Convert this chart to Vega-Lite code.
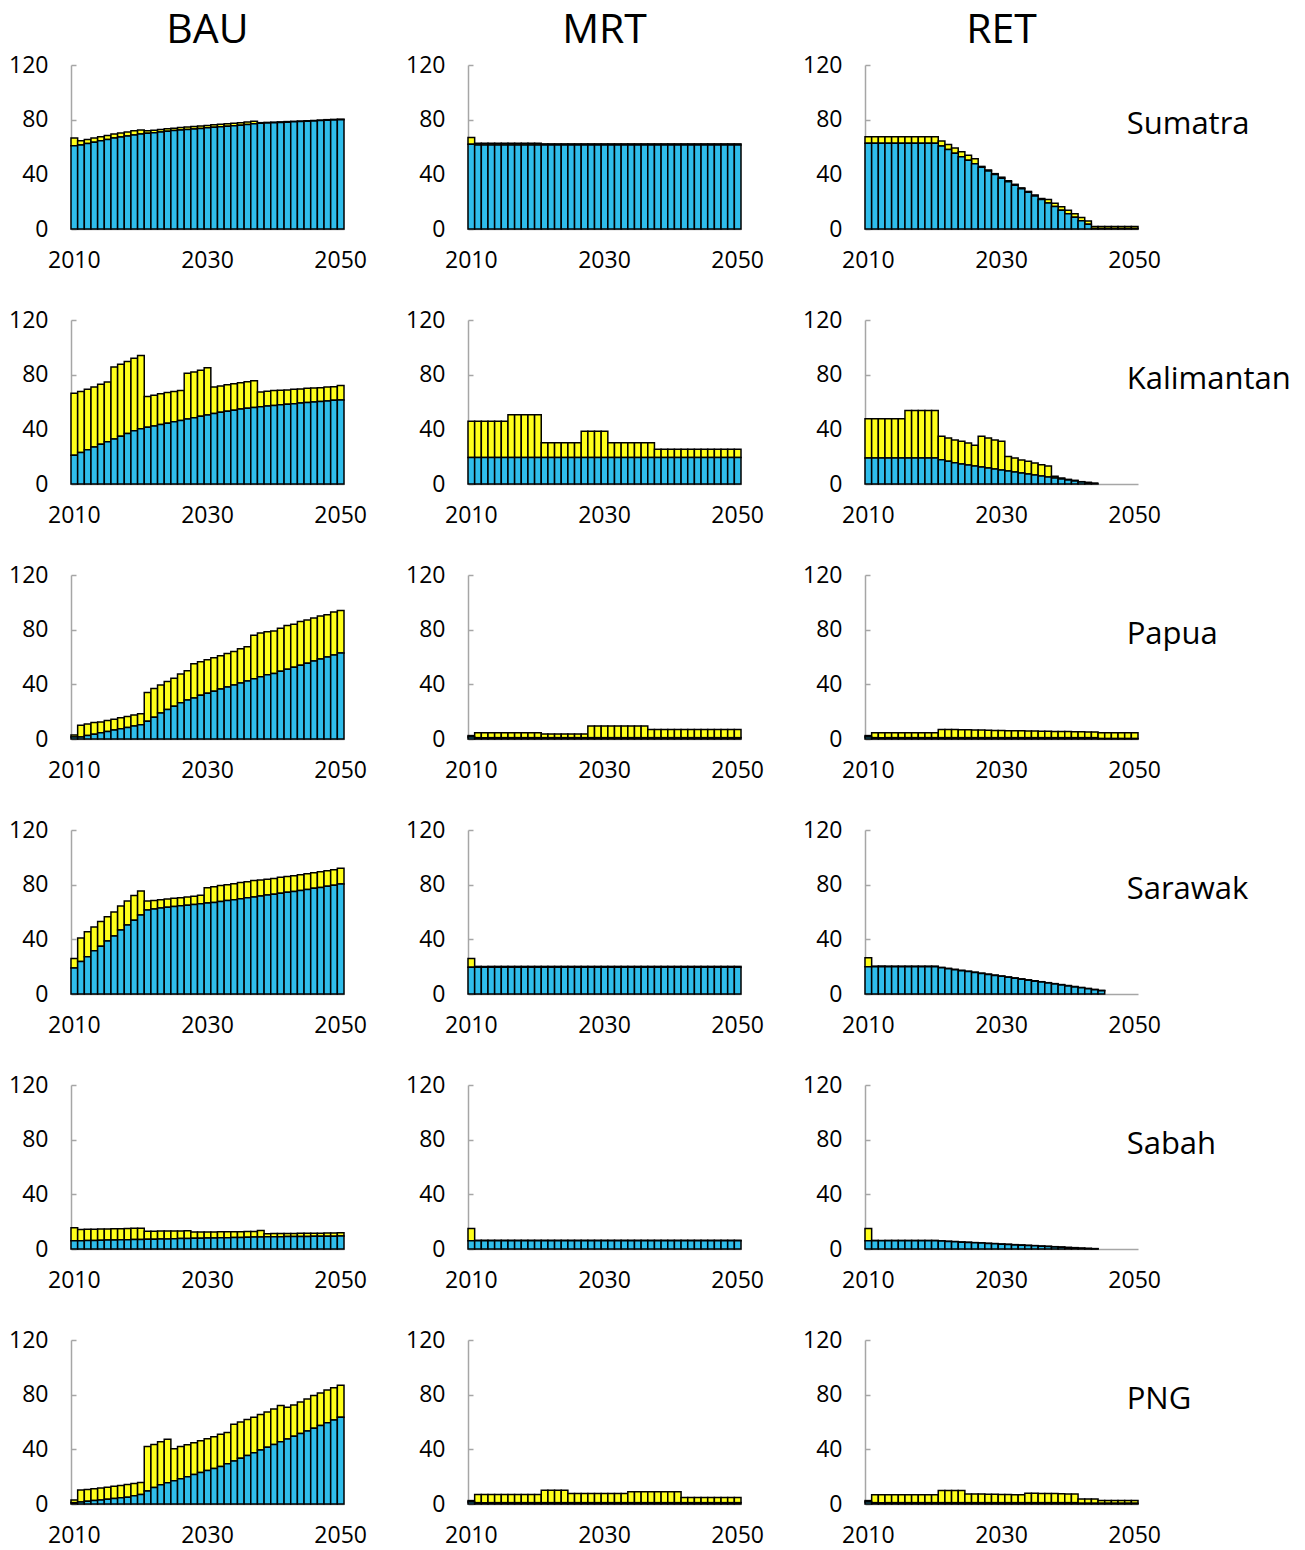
{
"$schema":"https://vega.github.io/schema/vega-lite/v6.json",
"background":"white",
"padding":{"left":8,"top":10,"right":5,"bottom":5},
"bounds":"flush",
"data":{"values":[
{"r":"Sumatra","s":"BAU","y":2010,"b":61,"t":66.5},{"r":"Sumatra","s":"BAU","y":2011,"b":61.5,"t":64.5},{"r":"Sumatra","s":"BAU","y":2012,"b":62.5,"t":65.5},{"r":"Sumatra","s":"BAU","y":2013,"b":63.5,"t":66.5},{"r":"Sumatra","s":"BAU","y":2014,"b":64.5,"t":67.5},{"r":"Sumatra","s":"BAU","y":2015,"b":65.5,"t":68.5},{"r":"Sumatra","s":"BAU","y":2016,"b":66.5,"t":69.5},{"r":"Sumatra","s":"BAU","y":2017,"b":67.3,"t":70.3},{"r":"Sumatra","s":"BAU","y":2018,"b":68,"t":71},{"r":"Sumatra","s":"BAU","y":2019,"b":68.8,"t":71.8},{"r":"Sumatra","s":"BAU","y":2020,"b":69.5,"t":72.5},{"r":"Sumatra","s":"BAU","y":2021,"b":70,"t":71.8},{"r":"Sumatra","s":"BAU","y":2022,"b":70.5,"t":72.3},{"r":"Sumatra","s":"BAU","y":2023,"b":71,"t":72.8},{"r":"Sumatra","s":"BAU","y":2024,"b":71.5,"t":73.3},{"r":"Sumatra","s":"BAU","y":2025,"b":72,"t":73.8},{"r":"Sumatra","s":"BAU","y":2026,"b":72.4,"t":74.2},{"r":"Sumatra","s":"BAU","y":2027,"b":72.8,"t":74.6},{"r":"Sumatra","s":"BAU","y":2028,"b":73.2,"t":75},{"r":"Sumatra","s":"BAU","y":2029,"b":73.6,"t":75.4},{"r":"Sumatra","s":"BAU","y":2030,"b":74,"t":75.8},{"r":"Sumatra","s":"BAU","y":2031,"b":74.4,"t":76.2},{"r":"Sumatra","s":"BAU","y":2032,"b":74.8,"t":76.6},{"r":"Sumatra","s":"BAU","y":2033,"b":75.2,"t":77},{"r":"Sumatra","s":"BAU","y":2034,"b":75.6,"t":77.4},{"r":"Sumatra","s":"BAU","y":2035,"b":76,"t":77.8},{"r":"Sumatra","s":"BAU","y":2036,"b":76.5,"t":78.3},{"r":"Sumatra","s":"BAU","y":2037,"b":77,"t":78.8},{"r":"Sumatra","s":"BAU","y":2038,"b":77.4,"t":77.8},{"r":"Sumatra","s":"BAU","y":2039,"b":77.6,"t":78},{"r":"Sumatra","s":"BAU","y":2040,"b":77.8,"t":78.2},{"r":"Sumatra","s":"BAU","y":2041,"b":78,"t":78.4},{"r":"Sumatra","s":"BAU","y":2042,"b":78.2,"t":78.6},{"r":"Sumatra","s":"BAU","y":2043,"b":78.4,"t":78.8},{"r":"Sumatra","s":"BAU","y":2044,"b":78.6,"t":79},{"r":"Sumatra","s":"BAU","y":2045,"b":78.8,"t":79.2},{"r":"Sumatra","s":"BAU","y":2046,"b":79,"t":79.4},{"r":"Sumatra","s":"BAU","y":2047,"b":79.3,"t":79.7},{"r":"Sumatra","s":"BAU","y":2048,"b":79.6,"t":80},{"r":"Sumatra","s":"BAU","y":2049,"b":79.8,"t":80.2},{"r":"Sumatra","s":"BAU","y":2050,"b":80,"t":80.4},
{"r":"Kalimantan","s":"BAU","y":2010,"b":21,"t":66.4},{"r":"Kalimantan","s":"BAU","y":2011,"b":23,"t":67.6},{"r":"Kalimantan","s":"BAU","y":2012,"b":25,"t":69.3},{"r":"Kalimantan","s":"BAU","y":2013,"b":27,"t":71},{"r":"Kalimantan","s":"BAU","y":2014,"b":29,"t":73},{"r":"Kalimantan","s":"BAU","y":2015,"b":31,"t":74.6},{"r":"Kalimantan","s":"BAU","y":2016,"b":33,"t":85.7},{"r":"Kalimantan","s":"BAU","y":2017,"b":35,"t":87.7},{"r":"Kalimantan","s":"BAU","y":2018,"b":37,"t":89.6},{"r":"Kalimantan","s":"BAU","y":2019,"b":39,"t":92},{"r":"Kalimantan","s":"BAU","y":2020,"b":40.5,"t":94},{"r":"Kalimantan","s":"BAU","y":2021,"b":41.5,"t":64},{"r":"Kalimantan","s":"BAU","y":2022,"b":42.5,"t":65},{"r":"Kalimantan","s":"BAU","y":2023,"b":43.5,"t":66},{"r":"Kalimantan","s":"BAU","y":2024,"b":44.5,"t":67},{"r":"Kalimantan","s":"BAU","y":2025,"b":45.5,"t":67.6},{"r":"Kalimantan","s":"BAU","y":2026,"b":46.5,"t":68.4},{"r":"Kalimantan","s":"BAU","y":2027,"b":47.5,"t":81},{"r":"Kalimantan","s":"BAU","y":2028,"b":48.5,"t":82},{"r":"Kalimantan","s":"BAU","y":2029,"b":49.5,"t":83.3},{"r":"Kalimantan","s":"BAU","y":2030,"b":50.5,"t":85},{"r":"Kalimantan","s":"BAU","y":2031,"b":51.5,"t":71},{"r":"Kalimantan","s":"BAU","y":2032,"b":52.5,"t":71.7},{"r":"Kalimantan","s":"BAU","y":2033,"b":53.3,"t":72.7},{"r":"Kalimantan","s":"BAU","y":2034,"b":54,"t":73.4},{"r":"Kalimantan","s":"BAU","y":2035,"b":54.8,"t":74},{"r":"Kalimantan","s":"BAU","y":2036,"b":55.5,"t":74.9},{"r":"Kalimantan","s":"BAU","y":2037,"b":56,"t":75.6},{"r":"Kalimantan","s":"BAU","y":2038,"b":56.5,"t":67.4},{"r":"Kalimantan","s":"BAU","y":2039,"b":57,"t":67.9},{"r":"Kalimantan","s":"BAU","y":2040,"b":57.5,"t":68.4},{"r":"Kalimantan","s":"BAU","y":2041,"b":58,"t":68.6},{"r":"Kalimantan","s":"BAU","y":2042,"b":58.4,"t":68.8},{"r":"Kalimantan","s":"BAU","y":2043,"b":58.8,"t":69.3},{"r":"Kalimantan","s":"BAU","y":2044,"b":59.2,"t":69.6},{"r":"Kalimantan","s":"BAU","y":2045,"b":59.6,"t":70},{"r":"Kalimantan","s":"BAU","y":2046,"b":60,"t":70.3},{"r":"Kalimantan","s":"BAU","y":2047,"b":60.4,"t":70.5},{"r":"Kalimantan","s":"BAU","y":2048,"b":60.8,"t":71},{"r":"Kalimantan","s":"BAU","y":2049,"b":61.2,"t":71.2},{"r":"Kalimantan","s":"BAU","y":2050,"b":61.5,"t":72},
{"r":"Papua","s":"BAU","y":2010,"b":1.5,"t":3},{"r":"Papua","s":"BAU","y":2011,"b":1.5,"t":10},{"r":"Papua","s":"BAU","y":2012,"b":2.5,"t":11},{"r":"Papua","s":"BAU","y":2013,"b":3.5,"t":12},{"r":"Papua","s":"BAU","y":2014,"b":4.5,"t":12.5},{"r":"Papua","s":"BAU","y":2015,"b":5.5,"t":13.5},{"r":"Papua","s":"BAU","y":2016,"b":6.5,"t":14.5},{"r":"Papua","s":"BAU","y":2017,"b":7.5,"t":15.5},{"r":"Papua","s":"BAU","y":2018,"b":8.5,"t":16.5},{"r":"Papua","s":"BAU","y":2019,"b":9.5,"t":17.5},{"r":"Papua","s":"BAU","y":2020,"b":10.5,"t":18.5},{"r":"Papua","s":"BAU","y":2021,"b":13,"t":34},{"r":"Papua","s":"BAU","y":2022,"b":16,"t":37},{"r":"Papua","s":"BAU","y":2023,"b":19,"t":39.5},{"r":"Papua","s":"BAU","y":2024,"b":21.5,"t":42},{"r":"Papua","s":"BAU","y":2025,"b":24,"t":44.5},{"r":"Papua","s":"BAU","y":2026,"b":26.5,"t":47.5},{"r":"Papua","s":"BAU","y":2027,"b":28.5,"t":50},{"r":"Papua","s":"BAU","y":2028,"b":30,"t":55},{"r":"Papua","s":"BAU","y":2029,"b":32,"t":56.5},{"r":"Papua","s":"BAU","y":2030,"b":33.5,"t":58},{"r":"Papua","s":"BAU","y":2031,"b":35,"t":59.5},{"r":"Papua","s":"BAU","y":2032,"b":36.5,"t":61},{"r":"Papua","s":"BAU","y":2033,"b":38,"t":62.5},{"r":"Papua","s":"BAU","y":2034,"b":39.5,"t":64},{"r":"Papua","s":"BAU","y":2035,"b":41,"t":66},{"r":"Papua","s":"BAU","y":2036,"b":42.5,"t":67.5},{"r":"Papua","s":"BAU","y":2037,"b":44,"t":76},{"r":"Papua","s":"BAU","y":2038,"b":45.5,"t":77.5},{"r":"Papua","s":"BAU","y":2039,"b":47,"t":78.5},{"r":"Papua","s":"BAU","y":2040,"b":48,"t":79},{"r":"Papua","s":"BAU","y":2041,"b":49.5,"t":81},{"r":"Papua","s":"BAU","y":2042,"b":51,"t":83},{"r":"Papua","s":"BAU","y":2043,"b":52.5,"t":84},{"r":"Papua","s":"BAU","y":2044,"b":54,"t":86},{"r":"Papua","s":"BAU","y":2045,"b":55.5,"t":87},{"r":"Papua","s":"BAU","y":2046,"b":57,"t":88.5},{"r":"Papua","s":"BAU","y":2047,"b":58.5,"t":90},{"r":"Papua","s":"BAU","y":2048,"b":60,"t":91},{"r":"Papua","s":"BAU","y":2049,"b":61.5,"t":93},{"r":"Papua","s":"BAU","y":2050,"b":63,"t":94},
{"r":"Sarawak","s":"BAU","y":2010,"b":19,"t":26},{"r":"Sarawak","s":"BAU","y":2011,"b":23.7,"t":41},{"r":"Sarawak","s":"BAU","y":2012,"b":27.3,"t":45.6},{"r":"Sarawak","s":"BAU","y":2013,"b":31.7,"t":49},{"r":"Sarawak","s":"BAU","y":2014,"b":35,"t":53},{"r":"Sarawak","s":"BAU","y":2015,"b":38.8,"t":56.6},{"r":"Sarawak","s":"BAU","y":2016,"b":42.4,"t":60},{"r":"Sarawak","s":"BAU","y":2017,"b":46.8,"t":64.4},{"r":"Sarawak","s":"BAU","y":2018,"b":50.5,"t":68},{"r":"Sarawak","s":"BAU","y":2019,"b":54,"t":72},{"r":"Sarawak","s":"BAU","y":2020,"b":57.8,"t":75.4},{"r":"Sarawak","s":"BAU","y":2021,"b":61.5,"t":68},{"r":"Sarawak","s":"BAU","y":2022,"b":62.2,"t":68.5},{"r":"Sarawak","s":"BAU","y":2023,"b":63,"t":69},{"r":"Sarawak","s":"BAU","y":2024,"b":63.5,"t":69.5},{"r":"Sarawak","s":"BAU","y":2025,"b":64,"t":70},{"r":"Sarawak","s":"BAU","y":2026,"b":64.5,"t":70.5},{"r":"Sarawak","s":"BAU","y":2027,"b":65,"t":71},{"r":"Sarawak","s":"BAU","y":2028,"b":65.5,"t":71.5},{"r":"Sarawak","s":"BAU","y":2029,"b":66,"t":72.2},{"r":"Sarawak","s":"BAU","y":2030,"b":66.5,"t":77.8},{"r":"Sarawak","s":"BAU","y":2031,"b":67,"t":78.5},{"r":"Sarawak","s":"BAU","y":2032,"b":67.7,"t":79.3},{"r":"Sarawak","s":"BAU","y":2033,"b":68.4,"t":80},{"r":"Sarawak","s":"BAU","y":2034,"b":69,"t":80.7},{"r":"Sarawak","s":"BAU","y":2035,"b":69.7,"t":81.5},{"r":"Sarawak","s":"BAU","y":2036,"b":70.4,"t":82.2},{"r":"Sarawak","s":"BAU","y":2037,"b":71,"t":83},{"r":"Sarawak","s":"BAU","y":2038,"b":71.7,"t":83.4},{"r":"Sarawak","s":"BAU","y":2039,"b":72.4,"t":84},{"r":"Sarawak","s":"BAU","y":2040,"b":73,"t":84.6},{"r":"Sarawak","s":"BAU","y":2041,"b":73.7,"t":85.4},{"r":"Sarawak","s":"BAU","y":2042,"b":74.4,"t":86},{"r":"Sarawak","s":"BAU","y":2043,"b":75,"t":86.6},{"r":"Sarawak","s":"BAU","y":2044,"b":75.8,"t":87.3},{"r":"Sarawak","s":"BAU","y":2045,"b":76.5,"t":88},{"r":"Sarawak","s":"BAU","y":2046,"b":77.3,"t":88.8},{"r":"Sarawak","s":"BAU","y":2047,"b":78,"t":89.5},{"r":"Sarawak","s":"BAU","y":2048,"b":78.8,"t":90.2},{"r":"Sarawak","s":"BAU","y":2049,"b":79.6,"t":91},{"r":"Sarawak","s":"BAU","y":2050,"b":80.5,"t":92},
{"r":"Sabah","s":"BAU","y":2010,"b":6,"t":15.5},{"r":"Sabah","s":"BAU","y":2011,"b":6.1,"t":14.3},{"r":"Sabah","s":"BAU","y":2012,"b":6.2,"t":14.4},{"r":"Sabah","s":"BAU","y":2013,"b":6.3,"t":14.5},{"r":"Sabah","s":"BAU","y":2014,"b":6.4,"t":14.6},{"r":"Sabah","s":"BAU","y":2015,"b":6.5,"t":14.7},{"r":"Sabah","s":"BAU","y":2016,"b":6.6,"t":14.8},{"r":"Sabah","s":"BAU","y":2017,"b":6.7,"t":14.9},{"r":"Sabah","s":"BAU","y":2018,"b":6.8,"t":15},{"r":"Sabah","s":"BAU","y":2019,"b":6.9,"t":15.1},{"r":"Sabah","s":"BAU","y":2020,"b":7,"t":15.2},{"r":"Sabah","s":"BAU","y":2021,"b":7.1,"t":13},{"r":"Sabah","s":"BAU","y":2022,"b":7.2,"t":13},{"r":"Sabah","s":"BAU","y":2023,"b":7.3,"t":13.1},{"r":"Sabah","s":"BAU","y":2024,"b":7.4,"t":13.1},{"r":"Sabah","s":"BAU","y":2025,"b":7.5,"t":13.2},{"r":"Sabah","s":"BAU","y":2026,"b":7.6,"t":13.2},{"r":"Sabah","s":"BAU","y":2027,"b":7.7,"t":13.3},{"r":"Sabah","s":"BAU","y":2028,"b":7.8,"t":12.4},{"r":"Sabah","s":"BAU","y":2029,"b":7.9,"t":12.4},{"r":"Sabah","s":"BAU","y":2030,"b":8,"t":12.5},{"r":"Sabah","s":"BAU","y":2031,"b":8.1,"t":12.5},{"r":"Sabah","s":"BAU","y":2032,"b":8.2,"t":12.6},{"r":"Sabah","s":"BAU","y":2033,"b":8.3,"t":12.6},{"r":"Sabah","s":"BAU","y":2034,"b":8.4,"t":12.7},{"r":"Sabah","s":"BAU","y":2035,"b":8.5,"t":12.7},{"r":"Sabah","s":"BAU","y":2036,"b":8.6,"t":12.8},{"r":"Sabah","s":"BAU","y":2037,"b":8.7,"t":12.8},{"r":"Sabah","s":"BAU","y":2038,"b":8.8,"t":13.5},{"r":"Sabah","s":"BAU","y":2039,"b":8.9,"t":11.2},{"r":"Sabah","s":"BAU","y":2040,"b":9,"t":11.3},{"r":"Sabah","s":"BAU","y":2041,"b":9,"t":11.3},{"r":"Sabah","s":"BAU","y":2042,"b":9.1,"t":11.4},{"r":"Sabah","s":"BAU","y":2043,"b":9.1,"t":11.4},{"r":"Sabah","s":"BAU","y":2044,"b":9.2,"t":11.5},{"r":"Sabah","s":"BAU","y":2045,"b":9.2,"t":11.5},{"r":"Sabah","s":"BAU","y":2046,"b":9.3,"t":11.6},{"r":"Sabah","s":"BAU","y":2047,"b":9.3,"t":11.6},{"r":"Sabah","s":"BAU","y":2048,"b":9.4,"t":11.7},{"r":"Sabah","s":"BAU","y":2049,"b":9.4,"t":11.7},{"r":"Sabah","s":"BAU","y":2050,"b":9.5,"t":11.8},
{"r":"PNG","s":"BAU","y":2010,"b":1,"t":3},{"r":"PNG","s":"BAU","y":2011,"b":1.5,"t":10.2},{"r":"PNG","s":"BAU","y":2012,"b":2,"t":10.7},{"r":"PNG","s":"BAU","y":2013,"b":2.5,"t":11.2},{"r":"PNG","s":"BAU","y":2014,"b":3,"t":11.7},{"r":"PNG","s":"BAU","y":2015,"b":3.5,"t":12.3},{"r":"PNG","s":"BAU","y":2016,"b":4,"t":12.9},{"r":"PNG","s":"BAU","y":2017,"b":4.5,"t":13.5},{"r":"PNG","s":"BAU","y":2018,"b":5,"t":14.2},{"r":"PNG","s":"BAU","y":2019,"b":6,"t":15},{"r":"PNG","s":"BAU","y":2020,"b":7,"t":15.8},{"r":"PNG","s":"BAU","y":2021,"b":9.5,"t":42},{"r":"PNG","s":"BAU","y":2022,"b":12,"t":43.6},{"r":"PNG","s":"BAU","y":2023,"b":14,"t":45.6},{"r":"PNG","s":"BAU","y":2024,"b":15.5,"t":47.3},{"r":"PNG","s":"BAU","y":2025,"b":17,"t":40.5},{"r":"PNG","s":"BAU","y":2026,"b":18.5,"t":42},{"r":"PNG","s":"BAU","y":2027,"b":20,"t":43.4},{"r":"PNG","s":"BAU","y":2028,"b":21.5,"t":44.8},{"r":"PNG","s":"BAU","y":2029,"b":23,"t":46.3},{"r":"PNG","s":"BAU","y":2030,"b":24.5,"t":47.8},{"r":"PNG","s":"BAU","y":2031,"b":26,"t":49.2},{"r":"PNG","s":"BAU","y":2032,"b":27.5,"t":51},{"r":"PNG","s":"BAU","y":2033,"b":29.5,"t":52.4},{"r":"PNG","s":"BAU","y":2034,"b":31.5,"t":58.4},{"r":"PNG","s":"BAU","y":2035,"b":33.5,"t":60},{"r":"PNG","s":"BAU","y":2036,"b":35.5,"t":61.8},{"r":"PNG","s":"BAU","y":2037,"b":37.5,"t":63.5},{"r":"PNG","s":"BAU","y":2038,"b":39.5,"t":65.5},{"r":"PNG","s":"BAU","y":2039,"b":41.5,"t":67.4},{"r":"PNG","s":"BAU","y":2040,"b":43.5,"t":69.6},{"r":"PNG","s":"BAU","y":2041,"b":45.5,"t":72},{"r":"PNG","s":"BAU","y":2042,"b":47.5,"t":70.8},{"r":"PNG","s":"BAU","y":2043,"b":49.5,"t":72.5},{"r":"PNG","s":"BAU","y":2044,"b":51.5,"t":74.7},{"r":"PNG","s":"BAU","y":2045,"b":53.5,"t":76.8},{"r":"PNG","s":"BAU","y":2046,"b":55.5,"t":79.3},{"r":"PNG","s":"BAU","y":2047,"b":57.5,"t":81.2},{"r":"PNG","s":"BAU","y":2048,"b":59.5,"t":83.4},{"r":"PNG","s":"BAU","y":2049,"b":61.5,"t":85},{"r":"PNG","s":"BAU","y":2050,"b":63.5,"t":86.8},
{"r":"Sumatra","s":"MRT","y":2010,"b":62,"t":67},{"r":"Sumatra","s":"MRT","y":2011,"b":61.5,"t":62.8},{"r":"Sumatra","s":"MRT","y":2012,"b":61.5,"t":62.8},{"r":"Sumatra","s":"MRT","y":2013,"b":61.5,"t":62.8},{"r":"Sumatra","s":"MRT","y":2014,"b":61.5,"t":62.8},{"r":"Sumatra","s":"MRT","y":2015,"b":61.5,"t":62.8},{"r":"Sumatra","s":"MRT","y":2016,"b":61.5,"t":62.8},{"r":"Sumatra","s":"MRT","y":2017,"b":61.5,"t":62.8},{"r":"Sumatra","s":"MRT","y":2018,"b":61.5,"t":62.8},{"r":"Sumatra","s":"MRT","y":2019,"b":61.5,"t":62.8},{"r":"Sumatra","s":"MRT","y":2020,"b":61.5,"t":62.8},{"r":"Sumatra","s":"MRT","y":2021,"b":61.5,"t":62.3},{"r":"Sumatra","s":"MRT","y":2022,"b":61.5,"t":62.3},{"r":"Sumatra","s":"MRT","y":2023,"b":61.5,"t":62.3},{"r":"Sumatra","s":"MRT","y":2024,"b":61.5,"t":62.3},{"r":"Sumatra","s":"MRT","y":2025,"b":61.5,"t":62.3},{"r":"Sumatra","s":"MRT","y":2026,"b":61.5,"t":62.3},{"r":"Sumatra","s":"MRT","y":2027,"b":61.5,"t":62.3},{"r":"Sumatra","s":"MRT","y":2028,"b":61.5,"t":62.3},{"r":"Sumatra","s":"MRT","y":2029,"b":61.5,"t":62.3},{"r":"Sumatra","s":"MRT","y":2030,"b":61.5,"t":62.3},{"r":"Sumatra","s":"MRT","y":2031,"b":61.5,"t":62.3},{"r":"Sumatra","s":"MRT","y":2032,"b":61.5,"t":62.3},{"r":"Sumatra","s":"MRT","y":2033,"b":61.5,"t":62.3},{"r":"Sumatra","s":"MRT","y":2034,"b":61.5,"t":62.3},{"r":"Sumatra","s":"MRT","y":2035,"b":61.5,"t":62.3},{"r":"Sumatra","s":"MRT","y":2036,"b":61.5,"t":62.3},{"r":"Sumatra","s":"MRT","y":2037,"b":61.5,"t":62.3},{"r":"Sumatra","s":"MRT","y":2038,"b":61.5,"t":62.3},{"r":"Sumatra","s":"MRT","y":2039,"b":61.5,"t":62.3},{"r":"Sumatra","s":"MRT","y":2040,"b":61.5,"t":62.3},{"r":"Sumatra","s":"MRT","y":2041,"b":61.5,"t":62.3},{"r":"Sumatra","s":"MRT","y":2042,"b":61.5,"t":62.3},{"r":"Sumatra","s":"MRT","y":2043,"b":61.5,"t":62.3},{"r":"Sumatra","s":"MRT","y":2044,"b":61.5,"t":62.3},{"r":"Sumatra","s":"MRT","y":2045,"b":61.5,"t":62.3},{"r":"Sumatra","s":"MRT","y":2046,"b":61.5,"t":62.3},{"r":"Sumatra","s":"MRT","y":2047,"b":61.5,"t":62.3},{"r":"Sumatra","s":"MRT","y":2048,"b":61.5,"t":62.3},{"r":"Sumatra","s":"MRT","y":2049,"b":61.5,"t":62.3},{"r":"Sumatra","s":"MRT","y":2050,"b":61.5,"t":62.3},
{"r":"Kalimantan","s":"MRT","y":2010,"b":19.3,"t":46},{"r":"Kalimantan","s":"MRT","y":2011,"b":19.3,"t":46},{"r":"Kalimantan","s":"MRT","y":2012,"b":19.3,"t":46},{"r":"Kalimantan","s":"MRT","y":2013,"b":19.3,"t":46},{"r":"Kalimantan","s":"MRT","y":2014,"b":19.3,"t":46},{"r":"Kalimantan","s":"MRT","y":2015,"b":19.3,"t":46},{"r":"Kalimantan","s":"MRT","y":2016,"b":19.3,"t":50.7},{"r":"Kalimantan","s":"MRT","y":2017,"b":19.3,"t":50.7},{"r":"Kalimantan","s":"MRT","y":2018,"b":19.3,"t":50.7},{"r":"Kalimantan","s":"MRT","y":2019,"b":19.3,"t":50.7},{"r":"Kalimantan","s":"MRT","y":2020,"b":19.3,"t":50.7},{"r":"Kalimantan","s":"MRT","y":2021,"b":19.3,"t":30.2},{"r":"Kalimantan","s":"MRT","y":2022,"b":19.3,"t":30.2},{"r":"Kalimantan","s":"MRT","y":2023,"b":19.3,"t":30.2},{"r":"Kalimantan","s":"MRT","y":2024,"b":19.3,"t":30.2},{"r":"Kalimantan","s":"MRT","y":2025,"b":19.3,"t":30.2},{"r":"Kalimantan","s":"MRT","y":2026,"b":19.3,"t":30.2},{"r":"Kalimantan","s":"MRT","y":2027,"b":19.3,"t":38.6},{"r":"Kalimantan","s":"MRT","y":2028,"b":19.3,"t":38.6},{"r":"Kalimantan","s":"MRT","y":2029,"b":19.3,"t":38.6},{"r":"Kalimantan","s":"MRT","y":2030,"b":19.3,"t":38.6},{"r":"Kalimantan","s":"MRT","y":2031,"b":19.3,"t":30.2},{"r":"Kalimantan","s":"MRT","y":2032,"b":19.3,"t":30.2},{"r":"Kalimantan","s":"MRT","y":2033,"b":19.3,"t":30.2},{"r":"Kalimantan","s":"MRT","y":2034,"b":19.3,"t":30.2},{"r":"Kalimantan","s":"MRT","y":2035,"b":19.3,"t":30.2},{"r":"Kalimantan","s":"MRT","y":2036,"b":19.3,"t":30.2},{"r":"Kalimantan","s":"MRT","y":2037,"b":19.3,"t":30.2},{"r":"Kalimantan","s":"MRT","y":2038,"b":19.3,"t":25.4},{"r":"Kalimantan","s":"MRT","y":2039,"b":19.3,"t":25.4},{"r":"Kalimantan","s":"MRT","y":2040,"b":19.3,"t":25.4},{"r":"Kalimantan","s":"MRT","y":2041,"b":19.3,"t":25.4},{"r":"Kalimantan","s":"MRT","y":2042,"b":19.3,"t":25.4},{"r":"Kalimantan","s":"MRT","y":2043,"b":19.3,"t":25.4},{"r":"Kalimantan","s":"MRT","y":2044,"b":19.3,"t":25.4},{"r":"Kalimantan","s":"MRT","y":2045,"b":19.3,"t":25.4},{"r":"Kalimantan","s":"MRT","y":2046,"b":19.3,"t":25.4},{"r":"Kalimantan","s":"MRT","y":2047,"b":19.3,"t":25.4},{"r":"Kalimantan","s":"MRT","y":2048,"b":19.3,"t":25.4},{"r":"Kalimantan","s":"MRT","y":2049,"b":19.3,"t":25.4},{"r":"Kalimantan","s":"MRT","y":2050,"b":19.3,"t":25.4},
{"r":"Papua","s":"MRT","y":2010,"b":1.5,"t":2.5},{"r":"Papua","s":"MRT","y":2011,"b":1,"t":4.5},{"r":"Papua","s":"MRT","y":2012,"b":1,"t":4.5},{"r":"Papua","s":"MRT","y":2013,"b":1,"t":4.5},{"r":"Papua","s":"MRT","y":2014,"b":1,"t":4.5},{"r":"Papua","s":"MRT","y":2015,"b":1,"t":4.5},{"r":"Papua","s":"MRT","y":2016,"b":1,"t":4.5},{"r":"Papua","s":"MRT","y":2017,"b":1,"t":4.5},{"r":"Papua","s":"MRT","y":2018,"b":1,"t":4.5},{"r":"Papua","s":"MRT","y":2019,"b":1,"t":4.5},{"r":"Papua","s":"MRT","y":2020,"b":1,"t":4.5},{"r":"Papua","s":"MRT","y":2021,"b":1,"t":3.7},{"r":"Papua","s":"MRT","y":2022,"b":1,"t":3.7},{"r":"Papua","s":"MRT","y":2023,"b":1,"t":3.7},{"r":"Papua","s":"MRT","y":2024,"b":1,"t":3.7},{"r":"Papua","s":"MRT","y":2025,"b":1,"t":3.7},{"r":"Papua","s":"MRT","y":2026,"b":1,"t":3.7},{"r":"Papua","s":"MRT","y":2027,"b":1,"t":3.7},{"r":"Papua","s":"MRT","y":2028,"b":1,"t":9.5},{"r":"Papua","s":"MRT","y":2029,"b":1,"t":9.5},{"r":"Papua","s":"MRT","y":2030,"b":1,"t":9.5},{"r":"Papua","s":"MRT","y":2031,"b":1,"t":9.5},{"r":"Papua","s":"MRT","y":2032,"b":1,"t":9.5},{"r":"Papua","s":"MRT","y":2033,"b":1,"t":9.5},{"r":"Papua","s":"MRT","y":2034,"b":1,"t":9.5},{"r":"Papua","s":"MRT","y":2035,"b":1,"t":9.5},{"r":"Papua","s":"MRT","y":2036,"b":1,"t":9.5},{"r":"Papua","s":"MRT","y":2037,"b":1,"t":7},{"r":"Papua","s":"MRT","y":2038,"b":1,"t":7},{"r":"Papua","s":"MRT","y":2039,"b":1,"t":7},{"r":"Papua","s":"MRT","y":2040,"b":1,"t":7},{"r":"Papua","s":"MRT","y":2041,"b":1,"t":7},{"r":"Papua","s":"MRT","y":2042,"b":1,"t":7},{"r":"Papua","s":"MRT","y":2043,"b":1,"t":7},{"r":"Papua","s":"MRT","y":2044,"b":1,"t":7},{"r":"Papua","s":"MRT","y":2045,"b":1,"t":7},{"r":"Papua","s":"MRT","y":2046,"b":1,"t":7},{"r":"Papua","s":"MRT","y":2047,"b":1,"t":7},{"r":"Papua","s":"MRT","y":2048,"b":1,"t":7},{"r":"Papua","s":"MRT","y":2049,"b":1,"t":7},{"r":"Papua","s":"MRT","y":2050,"b":1,"t":7},
{"r":"Sarawak","s":"MRT","y":2010,"b":19.5,"t":26},{"r":"Sarawak","s":"MRT","y":2011,"b":19.5,"t":20.2},{"r":"Sarawak","s":"MRT","y":2012,"b":19.5,"t":20.2},{"r":"Sarawak","s":"MRT","y":2013,"b":19.5,"t":20.2},{"r":"Sarawak","s":"MRT","y":2014,"b":19.5,"t":20.2},{"r":"Sarawak","s":"MRT","y":2015,"b":19.5,"t":20.2},{"r":"Sarawak","s":"MRT","y":2016,"b":19.5,"t":20.2},{"r":"Sarawak","s":"MRT","y":2017,"b":19.5,"t":20.2},{"r":"Sarawak","s":"MRT","y":2018,"b":19.5,"t":20.2},{"r":"Sarawak","s":"MRT","y":2019,"b":19.5,"t":20.2},{"r":"Sarawak","s":"MRT","y":2020,"b":19.5,"t":20.2},{"r":"Sarawak","s":"MRT","y":2021,"b":19.5,"t":20.2},{"r":"Sarawak","s":"MRT","y":2022,"b":19.5,"t":20.2},{"r":"Sarawak","s":"MRT","y":2023,"b":19.5,"t":20.2},{"r":"Sarawak","s":"MRT","y":2024,"b":19.5,"t":20.2},{"r":"Sarawak","s":"MRT","y":2025,"b":19.5,"t":20.2},{"r":"Sarawak","s":"MRT","y":2026,"b":19.5,"t":20.2},{"r":"Sarawak","s":"MRT","y":2027,"b":19.5,"t":20.2},{"r":"Sarawak","s":"MRT","y":2028,"b":19.5,"t":20.2},{"r":"Sarawak","s":"MRT","y":2029,"b":19.5,"t":20.2},{"r":"Sarawak","s":"MRT","y":2030,"b":19.5,"t":20.2},{"r":"Sarawak","s":"MRT","y":2031,"b":19.5,"t":20.2},{"r":"Sarawak","s":"MRT","y":2032,"b":19.5,"t":20.2},{"r":"Sarawak","s":"MRT","y":2033,"b":19.5,"t":20.2},{"r":"Sarawak","s":"MRT","y":2034,"b":19.5,"t":20.2},{"r":"Sarawak","s":"MRT","y":2035,"b":19.5,"t":20.2},{"r":"Sarawak","s":"MRT","y":2036,"b":19.5,"t":20.2},{"r":"Sarawak","s":"MRT","y":2037,"b":19.5,"t":20.2},{"r":"Sarawak","s":"MRT","y":2038,"b":19.5,"t":20.2},{"r":"Sarawak","s":"MRT","y":2039,"b":19.5,"t":20.2},{"r":"Sarawak","s":"MRT","y":2040,"b":19.5,"t":20.2},{"r":"Sarawak","s":"MRT","y":2041,"b":19.5,"t":20.2},{"r":"Sarawak","s":"MRT","y":2042,"b":19.5,"t":20.2},{"r":"Sarawak","s":"MRT","y":2043,"b":19.5,"t":20.2},{"r":"Sarawak","s":"MRT","y":2044,"b":19.5,"t":20.2},{"r":"Sarawak","s":"MRT","y":2045,"b":19.5,"t":20.2},{"r":"Sarawak","s":"MRT","y":2046,"b":19.5,"t":20.2},{"r":"Sarawak","s":"MRT","y":2047,"b":19.5,"t":20.2},{"r":"Sarawak","s":"MRT","y":2048,"b":19.5,"t":20.2},{"r":"Sarawak","s":"MRT","y":2049,"b":19.5,"t":20.2},{"r":"Sarawak","s":"MRT","y":2050,"b":19.5,"t":20.2},
{"r":"Sabah","s":"MRT","y":2010,"b":6,"t":15},{"r":"Sabah","s":"MRT","y":2011,"b":6,"t":6.4},{"r":"Sabah","s":"MRT","y":2012,"b":6,"t":6.4},{"r":"Sabah","s":"MRT","y":2013,"b":6,"t":6.4},{"r":"Sabah","s":"MRT","y":2014,"b":6,"t":6.4},{"r":"Sabah","s":"MRT","y":2015,"b":6,"t":6.4},{"r":"Sabah","s":"MRT","y":2016,"b":6,"t":6.4},{"r":"Sabah","s":"MRT","y":2017,"b":6,"t":6.4},{"r":"Sabah","s":"MRT","y":2018,"b":6,"t":6.4},{"r":"Sabah","s":"MRT","y":2019,"b":6,"t":6.4},{"r":"Sabah","s":"MRT","y":2020,"b":6,"t":6.4},{"r":"Sabah","s":"MRT","y":2021,"b":6,"t":6.4},{"r":"Sabah","s":"MRT","y":2022,"b":6,"t":6.4},{"r":"Sabah","s":"MRT","y":2023,"b":6,"t":6.4},{"r":"Sabah","s":"MRT","y":2024,"b":6,"t":6.4},{"r":"Sabah","s":"MRT","y":2025,"b":6,"t":6.4},{"r":"Sabah","s":"MRT","y":2026,"b":6,"t":6.4},{"r":"Sabah","s":"MRT","y":2027,"b":6,"t":6.4},{"r":"Sabah","s":"MRT","y":2028,"b":6,"t":6.4},{"r":"Sabah","s":"MRT","y":2029,"b":6,"t":6.4},{"r":"Sabah","s":"MRT","y":2030,"b":6,"t":6.4},{"r":"Sabah","s":"MRT","y":2031,"b":6,"t":6.4},{"r":"Sabah","s":"MRT","y":2032,"b":6,"t":6.4},{"r":"Sabah","s":"MRT","y":2033,"b":6,"t":6.4},{"r":"Sabah","s":"MRT","y":2034,"b":6,"t":6.4},{"r":"Sabah","s":"MRT","y":2035,"b":6,"t":6.4},{"r":"Sabah","s":"MRT","y":2036,"b":6,"t":6.4},{"r":"Sabah","s":"MRT","y":2037,"b":6,"t":6.4},{"r":"Sabah","s":"MRT","y":2038,"b":6,"t":6.4},{"r":"Sabah","s":"MRT","y":2039,"b":6,"t":6.4},{"r":"Sabah","s":"MRT","y":2040,"b":6,"t":6.4},{"r":"Sabah","s":"MRT","y":2041,"b":6,"t":6.4},{"r":"Sabah","s":"MRT","y":2042,"b":6,"t":6.4},{"r":"Sabah","s":"MRT","y":2043,"b":6,"t":6.4},{"r":"Sabah","s":"MRT","y":2044,"b":6,"t":6.4},{"r":"Sabah","s":"MRT","y":2045,"b":6,"t":6.4},{"r":"Sabah","s":"MRT","y":2046,"b":6,"t":6.4},{"r":"Sabah","s":"MRT","y":2047,"b":6,"t":6.4},{"r":"Sabah","s":"MRT","y":2048,"b":6,"t":6.4},{"r":"Sabah","s":"MRT","y":2049,"b":6,"t":6.4},{"r":"Sabah","s":"MRT","y":2050,"b":6,"t":6.4},
{"r":"PNG","s":"MRT","y":2010,"b":1.5,"t":2.5},{"r":"PNG","s":"MRT","y":2011,"b":1,"t":7},{"r":"PNG","s":"MRT","y":2012,"b":1,"t":7},{"r":"PNG","s":"MRT","y":2013,"b":1,"t":7},{"r":"PNG","s":"MRT","y":2014,"b":1,"t":7},{"r":"PNG","s":"MRT","y":2015,"b":1,"t":7},{"r":"PNG","s":"MRT","y":2016,"b":1,"t":7},{"r":"PNG","s":"MRT","y":2017,"b":1,"t":7},{"r":"PNG","s":"MRT","y":2018,"b":1,"t":7},{"r":"PNG","s":"MRT","y":2019,"b":1,"t":7},{"r":"PNG","s":"MRT","y":2020,"b":1,"t":7},{"r":"PNG","s":"MRT","y":2021,"b":1,"t":10},{"r":"PNG","s":"MRT","y":2022,"b":1,"t":10},{"r":"PNG","s":"MRT","y":2023,"b":1,"t":10},{"r":"PNG","s":"MRT","y":2024,"b":1,"t":10},{"r":"PNG","s":"MRT","y":2025,"b":1,"t":7.7},{"r":"PNG","s":"MRT","y":2026,"b":1,"t":7.7},{"r":"PNG","s":"MRT","y":2027,"b":1,"t":7.7},{"r":"PNG","s":"MRT","y":2028,"b":1,"t":7.7},{"r":"PNG","s":"MRT","y":2029,"b":1,"t":7.7},{"r":"PNG","s":"MRT","y":2030,"b":1,"t":7.7},{"r":"PNG","s":"MRT","y":2031,"b":1,"t":7.7},{"r":"PNG","s":"MRT","y":2032,"b":1,"t":7.7},{"r":"PNG","s":"MRT","y":2033,"b":1,"t":7.7},{"r":"PNG","s":"MRT","y":2034,"b":1,"t":8.9},{"r":"PNG","s":"MRT","y":2035,"b":1,"t":8.9},{"r":"PNG","s":"MRT","y":2036,"b":1,"t":8.9},{"r":"PNG","s":"MRT","y":2037,"b":1,"t":8.9},{"r":"PNG","s":"MRT","y":2038,"b":1,"t":8.9},{"r":"PNG","s":"MRT","y":2039,"b":1,"t":8.9},{"r":"PNG","s":"MRT","y":2040,"b":1,"t":8.9},{"r":"PNG","s":"MRT","y":2041,"b":1,"t":8.9},{"r":"PNG","s":"MRT","y":2042,"b":1,"t":4.8},{"r":"PNG","s":"MRT","y":2043,"b":1,"t":4.8},{"r":"PNG","s":"MRT","y":2044,"b":1,"t":4.8},{"r":"PNG","s":"MRT","y":2045,"b":1,"t":4.8},{"r":"PNG","s":"MRT","y":2046,"b":1,"t":4.8},{"r":"PNG","s":"MRT","y":2047,"b":1,"t":4.8},{"r":"PNG","s":"MRT","y":2048,"b":1,"t":4.8},{"r":"PNG","s":"MRT","y":2049,"b":1,"t":4.8},{"r":"PNG","s":"MRT","y":2050,"b":1,"t":4.8},
{"r":"Sumatra","s":"RET","y":2010,"b":62.7,"t":67.5},{"r":"Sumatra","s":"RET","y":2011,"b":62.7,"t":67.5},{"r":"Sumatra","s":"RET","y":2012,"b":62.7,"t":67.5},{"r":"Sumatra","s":"RET","y":2013,"b":62.7,"t":67.5},{"r":"Sumatra","s":"RET","y":2014,"b":62.7,"t":67.5},{"r":"Sumatra","s":"RET","y":2015,"b":62.7,"t":67.5},{"r":"Sumatra","s":"RET","y":2016,"b":62.7,"t":67.5},{"r":"Sumatra","s":"RET","y":2017,"b":62.7,"t":67.5},{"r":"Sumatra","s":"RET","y":2018,"b":62.7,"t":67.5},{"r":"Sumatra","s":"RET","y":2019,"b":62.7,"t":67.5},{"r":"Sumatra","s":"RET","y":2020,"b":62.7,"t":67.5},{"r":"Sumatra","s":"RET","y":2021,"b":60.7,"t":64.4},{"r":"Sumatra","s":"RET","y":2022,"b":58.1,"t":61.8},{"r":"Sumatra","s":"RET","y":2023,"b":55.5,"t":59.2},{"r":"Sumatra","s":"RET","y":2024,"b":52.9,"t":56.6},{"r":"Sumatra","s":"RET","y":2025,"b":50.3,"t":54},{"r":"Sumatra","s":"RET","y":2026,"b":47.7,"t":51.4},{"r":"Sumatra","s":"RET","y":2027,"b":45.1,"t":45.8},{"r":"Sumatra","s":"RET","y":2028,"b":42.5,"t":43.2},{"r":"Sumatra","s":"RET","y":2029,"b":39.8,"t":40.5},{"r":"Sumatra","s":"RET","y":2030,"b":37.2,"t":37.9},{"r":"Sumatra","s":"RET","y":2031,"b":34.6,"t":35.3},{"r":"Sumatra","s":"RET","y":2032,"b":32,"t":32.7},{"r":"Sumatra","s":"RET","y":2033,"b":29.4,"t":30.1},{"r":"Sumatra","s":"RET","y":2034,"b":26.8,"t":27.5},{"r":"Sumatra","s":"RET","y":2035,"b":24.2,"t":24.9},{"r":"Sumatra","s":"RET","y":2036,"b":21.6,"t":22.3},{"r":"Sumatra","s":"RET","y":2037,"b":19,"t":21.5},{"r":"Sumatra","s":"RET","y":2038,"b":16.4,"t":18.9},{"r":"Sumatra","s":"RET","y":2039,"b":13.8,"t":16.3},{"r":"Sumatra","s":"RET","y":2040,"b":11.2,"t":13.7},{"r":"Sumatra","s":"RET","y":2041,"b":8.6,"t":11.1},{"r":"Sumatra","s":"RET","y":2042,"b":6,"t":8.5},{"r":"Sumatra","s":"RET","y":2043,"b":3.4,"t":5.9},{"r":"Sumatra","s":"RET","y":2044,"b":0.3,"t":1.8},{"r":"Sumatra","s":"RET","y":2045,"b":0.3,"t":1.8},{"r":"Sumatra","s":"RET","y":2046,"b":0.3,"t":1.8},{"r":"Sumatra","s":"RET","y":2047,"b":0.3,"t":1.8},{"r":"Sumatra","s":"RET","y":2048,"b":0.3,"t":1.8},{"r":"Sumatra","s":"RET","y":2049,"b":0.3,"t":1.8},{"r":"Sumatra","s":"RET","y":2050,"b":0.3,"t":1.8},
{"r":"Kalimantan","s":"RET","y":2010,"b":19,"t":47.8},{"r":"Kalimantan","s":"RET","y":2011,"b":19,"t":47.8},{"r":"Kalimantan","s":"RET","y":2012,"b":19,"t":47.8},{"r":"Kalimantan","s":"RET","y":2013,"b":19,"t":47.8},{"r":"Kalimantan","s":"RET","y":2014,"b":19,"t":47.8},{"r":"Kalimantan","s":"RET","y":2015,"b":19,"t":47.8},{"r":"Kalimantan","s":"RET","y":2016,"b":19,"t":53.7},{"r":"Kalimantan","s":"RET","y":2017,"b":19,"t":53.7},{"r":"Kalimantan","s":"RET","y":2018,"b":19,"t":53.7},{"r":"Kalimantan","s":"RET","y":2019,"b":19,"t":53.7},{"r":"Kalimantan","s":"RET","y":2020,"b":19,"t":53.7},{"r":"Kalimantan","s":"RET","y":2021,"b":17.8,"t":34.9},{"r":"Kalimantan","s":"RET","y":2022,"b":16.6,"t":33.7},{"r":"Kalimantan","s":"RET","y":2023,"b":15.6,"t":32.2},{"r":"Kalimantan","s":"RET","y":2024,"b":14.6,"t":31.2},{"r":"Kalimantan","s":"RET","y":2025,"b":13.9,"t":30},{"r":"Kalimantan","s":"RET","y":2026,"b":13.2,"t":28.3},{"r":"Kalimantan","s":"RET","y":2027,"b":12.4,"t":34.9},{"r":"Kalimantan","s":"RET","y":2028,"b":11.7,"t":33.7},{"r":"Kalimantan","s":"RET","y":2029,"b":11,"t":32.2},{"r":"Kalimantan","s":"RET","y":2030,"b":10.2,"t":31.2},{"r":"Kalimantan","s":"RET","y":2031,"b":9.5,"t":20.2},{"r":"Kalimantan","s":"RET","y":2032,"b":8.8,"t":19},{"r":"Kalimantan","s":"RET","y":2033,"b":8,"t":17.6},{"r":"Kalimantan","s":"RET","y":2034,"b":7.3,"t":16.6},{"r":"Kalimantan","s":"RET","y":2035,"b":6.6,"t":15.4},{"r":"Kalimantan","s":"RET","y":2036,"b":5.9,"t":14.1},{"r":"Kalimantan","s":"RET","y":2037,"b":5.1,"t":13.2},{"r":"Kalimantan","s":"RET","y":2038,"b":4.4,"t":5.6},{"r":"Kalimantan","s":"RET","y":2039,"b":3.7,"t":4.4},{"r":"Kalimantan","s":"RET","y":2040,"b":2.9,"t":3.4},{"r":"Kalimantan","s":"RET","y":2041,"b":2.2,"t":2.7},{"r":"Kalimantan","s":"RET","y":2042,"b":1.5,"t":1.7},{"r":"Kalimantan","s":"RET","y":2043,"b":1,"t":1.2},{"r":"Kalimantan","s":"RET","y":2044,"b":0.5,"t":0.5},{"r":"Kalimantan","s":"RET","y":2045,"b":0,"t":0},{"r":"Kalimantan","s":"RET","y":2046,"b":0,"t":0},{"r":"Kalimantan","s":"RET","y":2047,"b":0,"t":0},{"r":"Kalimantan","s":"RET","y":2048,"b":0,"t":0},{"r":"Kalimantan","s":"RET","y":2049,"b":0,"t":0},{"r":"Kalimantan","s":"RET","y":2050,"b":0,"t":0},
{"r":"Papua","s":"RET","y":2010,"b":1.5,"t":2.5},{"r":"Papua","s":"RET","y":2011,"b":1,"t":4.5},{"r":"Papua","s":"RET","y":2012,"b":1,"t":4.5},{"r":"Papua","s":"RET","y":2013,"b":1,"t":4.5},{"r":"Papua","s":"RET","y":2014,"b":1,"t":4.5},{"r":"Papua","s":"RET","y":2015,"b":1,"t":4.5},{"r":"Papua","s":"RET","y":2016,"b":1,"t":4.5},{"r":"Papua","s":"RET","y":2017,"b":1,"t":4.5},{"r":"Papua","s":"RET","y":2018,"b":1,"t":4.5},{"r":"Papua","s":"RET","y":2019,"b":1,"t":4.5},{"r":"Papua","s":"RET","y":2020,"b":1,"t":4.5},{"r":"Papua","s":"RET","y":2021,"b":1,"t":7},{"r":"Papua","s":"RET","y":2022,"b":1,"t":7},{"r":"Papua","s":"RET","y":2023,"b":1,"t":6.9},{"r":"Papua","s":"RET","y":2024,"b":1,"t":6.8},{"r":"Papua","s":"RET","y":2025,"b":1,"t":6.7},{"r":"Papua","s":"RET","y":2026,"b":1,"t":6.6},{"r":"Papua","s":"RET","y":2027,"b":1,"t":6.5},{"r":"Papua","s":"RET","y":2028,"b":1,"t":6.4},{"r":"Papua","s":"RET","y":2029,"b":1,"t":6.3},{"r":"Papua","s":"RET","y":2030,"b":1,"t":6.2},{"r":"Papua","s":"RET","y":2031,"b":1,"t":6.1},{"r":"Papua","s":"RET","y":2032,"b":1,"t":6},{"r":"Papua","s":"RET","y":2033,"b":1,"t":6},{"r":"Papua","s":"RET","y":2034,"b":1,"t":5.9},{"r":"Papua","s":"RET","y":2035,"b":1,"t":5.8},{"r":"Papua","s":"RET","y":2036,"b":1,"t":5.7},{"r":"Papua","s":"RET","y":2037,"b":1,"t":5.6},{"r":"Papua","s":"RET","y":2038,"b":1,"t":5.5},{"r":"Papua","s":"RET","y":2039,"b":1,"t":5.5},{"r":"Papua","s":"RET","y":2040,"b":1,"t":5.4},{"r":"Papua","s":"RET","y":2041,"b":1,"t":5.3},{"r":"Papua","s":"RET","y":2042,"b":1,"t":5.3},{"r":"Papua","s":"RET","y":2043,"b":1,"t":5.2},{"r":"Papua","s":"RET","y":2044,"b":1,"t":5.2},{"r":"Papua","s":"RET","y":2045,"b":0.3,"t":4.5},{"r":"Papua","s":"RET","y":2046,"b":0.3,"t":4.5},{"r":"Papua","s":"RET","y":2047,"b":0.3,"t":4.5},{"r":"Papua","s":"RET","y":2048,"b":0.3,"t":4.5},{"r":"Papua","s":"RET","y":2049,"b":0.3,"t":4.5},{"r":"Papua","s":"RET","y":2050,"b":0.3,"t":4.5},
{"r":"Sarawak","s":"RET","y":2010,"b":20,"t":26.5},{"r":"Sarawak","s":"RET","y":2011,"b":20,"t":20.4},{"r":"Sarawak","s":"RET","y":2012,"b":20,"t":20.4},{"r":"Sarawak","s":"RET","y":2013,"b":20,"t":20.4},{"r":"Sarawak","s":"RET","y":2014,"b":20,"t":20.4},{"r":"Sarawak","s":"RET","y":2015,"b":20,"t":20.4},{"r":"Sarawak","s":"RET","y":2016,"b":20,"t":20.4},{"r":"Sarawak","s":"RET","y":2017,"b":20,"t":20.4},{"r":"Sarawak","s":"RET","y":2018,"b":20,"t":20.4},{"r":"Sarawak","s":"RET","y":2019,"b":20,"t":20.4},{"r":"Sarawak","s":"RET","y":2020,"b":20,"t":20.4},{"r":"Sarawak","s":"RET","y":2021,"b":19.2,"t":19.5},{"r":"Sarawak","s":"RET","y":2022,"b":18.5,"t":18.8},{"r":"Sarawak","s":"RET","y":2023,"b":17.8,"t":18.1},{"r":"Sarawak","s":"RET","y":2024,"b":17.1,"t":17.4},{"r":"Sarawak","s":"RET","y":2025,"b":16.4,"t":16.7},{"r":"Sarawak","s":"RET","y":2026,"b":15.7,"t":16},{"r":"Sarawak","s":"RET","y":2027,"b":15,"t":15.3},{"r":"Sarawak","s":"RET","y":2028,"b":14.3,"t":14.6},{"r":"Sarawak","s":"RET","y":2029,"b":13.6,"t":13.9},{"r":"Sarawak","s":"RET","y":2030,"b":12.9,"t":13.2},{"r":"Sarawak","s":"RET","y":2031,"b":12.2,"t":12.5},{"r":"Sarawak","s":"RET","y":2032,"b":11.5,"t":11.8},{"r":"Sarawak","s":"RET","y":2033,"b":10.8,"t":11.1},{"r":"Sarawak","s":"RET","y":2034,"b":10.1,"t":10.4},{"r":"Sarawak","s":"RET","y":2035,"b":9.4,"t":9.7},{"r":"Sarawak","s":"RET","y":2036,"b":8.7,"t":9},{"r":"Sarawak","s":"RET","y":2037,"b":8,"t":8.3},{"r":"Sarawak","s":"RET","y":2038,"b":7.3,"t":7.6},{"r":"Sarawak","s":"RET","y":2039,"b":6.6,"t":6.9},{"r":"Sarawak","s":"RET","y":2040,"b":5.9,"t":6.2},{"r":"Sarawak","s":"RET","y":2041,"b":5.2,"t":5.5},{"r":"Sarawak","s":"RET","y":2042,"b":4.5,"t":4.8},{"r":"Sarawak","s":"RET","y":2043,"b":3.8,"t":4.1},{"r":"Sarawak","s":"RET","y":2044,"b":3.1,"t":3.4},{"r":"Sarawak","s":"RET","y":2045,"b":2.4,"t":2.7},{"r":"Sarawak","s":"RET","y":2046,"b":0,"t":0},{"r":"Sarawak","s":"RET","y":2047,"b":0,"t":0},{"r":"Sarawak","s":"RET","y":2048,"b":0,"t":0},{"r":"Sarawak","s":"RET","y":2049,"b":0,"t":0},{"r":"Sarawak","s":"RET","y":2050,"b":0,"t":0},
{"r":"Sabah","s":"RET","y":2010,"b":6,"t":15},{"r":"Sabah","s":"RET","y":2011,"b":6,"t":6.3},{"r":"Sabah","s":"RET","y":2012,"b":6,"t":6.3},{"r":"Sabah","s":"RET","y":2013,"b":6,"t":6.3},{"r":"Sabah","s":"RET","y":2014,"b":6,"t":6.3},{"r":"Sabah","s":"RET","y":2015,"b":6,"t":6.3},{"r":"Sabah","s":"RET","y":2016,"b":6,"t":6.3},{"r":"Sabah","s":"RET","y":2017,"b":6,"t":6.3},{"r":"Sabah","s":"RET","y":2018,"b":6,"t":6.3},{"r":"Sabah","s":"RET","y":2019,"b":6,"t":6.3},{"r":"Sabah","s":"RET","y":2020,"b":6,"t":6.3},{"r":"Sabah","s":"RET","y":2021,"b":5.8,"t":6},{"r":"Sabah","s":"RET","y":2022,"b":5.5,"t":5.7},{"r":"Sabah","s":"RET","y":2023,"b":5.3,"t":5.5},{"r":"Sabah","s":"RET","y":2024,"b":5,"t":5.2},{"r":"Sabah","s":"RET","y":2025,"b":4.8,"t":5},{"r":"Sabah","s":"RET","y":2026,"b":4.5,"t":4.7},{"r":"Sabah","s":"RET","y":2027,"b":4.3,"t":4.5},{"r":"Sabah","s":"RET","y":2028,"b":4,"t":4.2},{"r":"Sabah","s":"RET","y":2029,"b":3.8,"t":4},{"r":"Sabah","s":"RET","y":2030,"b":3.5,"t":3.7},{"r":"Sabah","s":"RET","y":2031,"b":3.3,"t":3.5},{"r":"Sabah","s":"RET","y":2032,"b":3,"t":3.2},{"r":"Sabah","s":"RET","y":2033,"b":2.8,"t":3},{"r":"Sabah","s":"RET","y":2034,"b":2.5,"t":2.7},{"r":"Sabah","s":"RET","y":2035,"b":2.3,"t":2.5},{"r":"Sabah","s":"RET","y":2036,"b":2,"t":2.2},{"r":"Sabah","s":"RET","y":2037,"b":1.8,"t":2},{"r":"Sabah","s":"RET","y":2038,"b":1.5,"t":1.7},{"r":"Sabah","s":"RET","y":2039,"b":1.3,"t":1.5},{"r":"Sabah","s":"RET","y":2040,"b":1,"t":1.2},{"r":"Sabah","s":"RET","y":2041,"b":0.8,"t":1},{"r":"Sabah","s":"RET","y":2042,"b":0.5,"t":0.7},{"r":"Sabah","s":"RET","y":2043,"b":0.3,"t":0.5},{"r":"Sabah","s":"RET","y":2044,"b":0.1,"t":0.3},{"r":"Sabah","s":"RET","y":2045,"b":0,"t":0},{"r":"Sabah","s":"RET","y":2046,"b":0,"t":0},{"r":"Sabah","s":"RET","y":2047,"b":0,"t":0},{"r":"Sabah","s":"RET","y":2048,"b":0,"t":0},{"r":"Sabah","s":"RET","y":2049,"b":0,"t":0},{"r":"Sabah","s":"RET","y":2050,"b":0,"t":0},
{"r":"PNG","s":"RET","y":2010,"b":1.5,"t":2.5},{"r":"PNG","s":"RET","y":2011,"b":1,"t":6.7},{"r":"PNG","s":"RET","y":2012,"b":1,"t":6.7},{"r":"PNG","s":"RET","y":2013,"b":1,"t":6.7},{"r":"PNG","s":"RET","y":2014,"b":1,"t":6.7},{"r":"PNG","s":"RET","y":2015,"b":1,"t":6.7},{"r":"PNG","s":"RET","y":2016,"b":1,"t":6.7},{"r":"PNG","s":"RET","y":2017,"b":1,"t":6.7},{"r":"PNG","s":"RET","y":2018,"b":1,"t":6.7},{"r":"PNG","s":"RET","y":2019,"b":1,"t":6.7},{"r":"PNG","s":"RET","y":2020,"b":1,"t":6.7},{"r":"PNG","s":"RET","y":2021,"b":1,"t":9.8},{"r":"PNG","s":"RET","y":2022,"b":1,"t":9.8},{"r":"PNG","s":"RET","y":2023,"b":1,"t":9.8},{"r":"PNG","s":"RET","y":2024,"b":1,"t":9.8},{"r":"PNG","s":"RET","y":2025,"b":1,"t":7.4},{"r":"PNG","s":"RET","y":2026,"b":1,"t":7.35},{"r":"PNG","s":"RET","y":2027,"b":1,"t":7.3},{"r":"PNG","s":"RET","y":2028,"b":1,"t":7.2},{"r":"PNG","s":"RET","y":2029,"b":1,"t":7.1},{"r":"PNG","s":"RET","y":2030,"b":1,"t":7},{"r":"PNG","s":"RET","y":2031,"b":1,"t":6.9},{"r":"PNG","s":"RET","y":2032,"b":1,"t":6.8},{"r":"PNG","s":"RET","y":2033,"b":1,"t":6.8},{"r":"PNG","s":"RET","y":2034,"b":1,"t":7.9},{"r":"PNG","s":"RET","y":2035,"b":1,"t":7.8},{"r":"PNG","s":"RET","y":2036,"b":1,"t":7.7},{"r":"PNG","s":"RET","y":2037,"b":1,"t":7.6},{"r":"PNG","s":"RET","y":2038,"b":1,"t":7.6},{"r":"PNG","s":"RET","y":2039,"b":1,"t":7.5},{"r":"PNG","s":"RET","y":2040,"b":1,"t":7.4},{"r":"PNG","s":"RET","y":2041,"b":1,"t":7.4},{"r":"PNG","s":"RET","y":2042,"b":0.5,"t":3.6},{"r":"PNG","s":"RET","y":2043,"b":0.5,"t":3.6},{"r":"PNG","s":"RET","y":2044,"b":0.5,"t":3.6},{"r":"PNG","s":"RET","y":2045,"b":0.5,"t":2.6},{"r":"PNG","s":"RET","y":2046,"b":0.5,"t":2.6},{"r":"PNG","s":"RET","y":2047,"b":0.5,"t":2.6},{"r":"PNG","s":"RET","y":2048,"b":0.5,"t":2.6},{"r":"PNG","s":"RET","y":2049,"b":0.5,"t":2.6},{"r":"PNG","s":"RET","y":2050,"b":0.5,"t":2.6}
]},
"facet":{
"row":{"field":"r","type":"nominal","sort":["Sumatra","Kalimantan","Papua","Sarawak","Sabah","PNG"],"header":{"title":null,"labels":false}},
"column":{"field":"s","type":"nominal","sort":["BAU","MRT","RET"],"header":{"title":null,"labelFontSize":41,"labelFont":"Open Sans","labelColor":"black","labelPadding":13}}
},
"spacing":{"row":91,"column":124},
"resolve":{"axis":{"x":"independent","y":"independent"}},
"spec":{
"width":273,"height":164,
"encoding":{"x":{"field":"y","type":"ordinal","scale":{"paddingInner":0,"paddingOuter":0},"axis":{"title":null,"values":[2010,2030,2050],"labelAngle":0,"ticks":false,"domainColor":"#a6a6a6","domainWidth":1.5,"labelFontSize":23,"labelFont":"Open Sans","labelColor":"black","labelPadding":20}}},
"layer":[
{"transform":[{"filter":"datum.t > 0"}],"mark":{"type":"bar","fill":"#FFFF1A","stroke":"black","strokeWidth":1.5},"encoding":{"y":{"field":"t","type":"quantitative","scale":{"domain":[0,120],"nice":false},"axis":{"title":null,"values":[0,40,80,120],"grid":false,"domainColor":"#a6a6a6","domainWidth":1.5,"tickColor":"#a6a6a6","tickSize":-5,"tickWidth":1.5,"labelFontSize":23,"labelFont":"Open Sans","labelColor":"black","labelPadding":28}},"y2":{"field":"b"}}},
{"transform":[{"filter":"datum.t > 0"}],"mark":{"type":"bar","fill":"#2FBDEB","stroke":"black","strokeWidth":1.5},"encoding":{"y":{"field":"b","type":"quantitative"}}},
{"transform":[{"filter":"datum.s == 'RET' && datum.y == 2050"}],"mark":{"type":"text","align":"left","baseline":"middle","fontSize":31,"font":"Open Sans","color":"black","dx":-8},"encoding":{"y":{"datum":76},"text":{"field":"r"}}}
]
},
"config":{"view":{"stroke":null},"font":"Open Sans"}
}
